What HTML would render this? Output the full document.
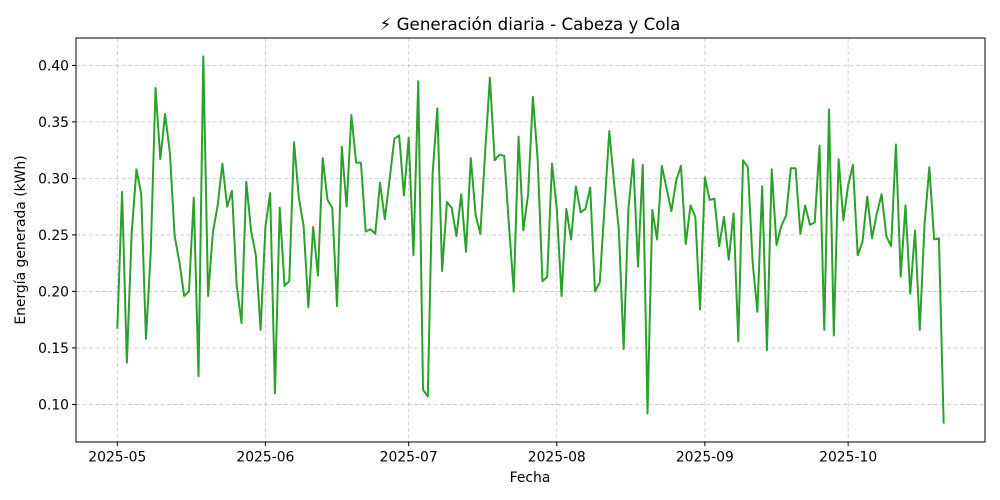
<!DOCTYPE html>
<html><head><meta charset="utf-8"><style>
html,body{margin:0;padding:0;background:#fff;}
svg{display:block;font-family:"DejaVu Sans","Liberation Sans",sans-serif;}
</style></head><body>
<svg id="chart" width="1000" height="500" viewBox="0 0 1000 500">
<rect x="0" y="0" width="1000" height="500" fill="#fff"/>
<text x="530" y="30" text-anchor="middle" font-size="16.7" fill="#000">⚡ Generación diaria - Cabeza y Cola</text>
<g id="grid"></g>
<g id="series"></g>
<rect x="76" y="38" width="909" height="404" fill="none" stroke="#000" stroke-width="1"/>
<g id="xticks"></g>
<g id="yticks"></g>
<text x="530" y="482" text-anchor="middle" font-size="13.9">Fecha</text>
<text transform="translate(25,240) rotate(-90)" text-anchor="middle" font-size="13.9">Energía generada (kWh)</text>
</svg>
<script>
const startDate = "2025-05-01";
const values = [
.167,.288,.137,.251,.308,.286,.158,.235,.380,.317,.357,.323,.249,.226,.196,.200,.283,.125,.408,.196,.252,.276,.313,.275,.289,.205,.172,.297,.254,.232,.166,.257,
.287,.110,.274,.205,.209,.332,.283,.258,.186,.257,.214,.318,.281,.274,.187,.328,.275,.356,.314,.314,.253,.255,.251,.296,.264,.299,.335,.338,.285,.336,.232,.386,
.113,.107,.304,.362,.218,.279,.274,.249,.286,.235,.318,.268,.251,.323,.389,.316,.321,.320,.258,.200,.337,.254,.286,.372,.317,.209,.213,.313,.273,.196,
.273,.246,.293,.270,.273,.292,.200,.208,.275,.342,.296,.254,.149,.273,.317,.222,.312,.092,.272,.246,.311,.291,.271,.298,.311,.242,.276,.266,.184,.301,.281,
.282,.240,.266,.228,.269,.156,.316,.310,.226,.182,.293,.148,.308,.241,.258,.267,.309,.309,.251,.276,.259,.261,.329,.166,.361,.161,.317,.263,.294,.312,.232,
.244,.284,.247,.269,.286,.249,.240,.330,.213,.276,.198,.254,.166,.260,.310,.246,.247,.083
];
const xTickLabels = ["2025-05","2025-06","2025-07","2025-08","2025-09","2025-10"];
const yTickValues = [0.10,0.15,0.20,0.25,0.30,0.35,0.40];

const NS="http://www.w3.org/2000/svg";
const L=76,R=985,T=38,B=442;
const DAY=86400000;
const t0=Date.parse(startDate+"T00:00:00Z");
const n=values.length;
const span=n-1, xm=span*0.05;
function xs(d){return L+(d+xm)/(span+2*xm)*(R-L);}
const vmin=Math.min(...values), vmax=Math.max(...values), ym=(vmax-vmin)*0.05;
function ys(v){return B-(v-(vmin-ym))/((vmax+ym)-(vmin-ym))*(B-T);}
function mk(tag,attrs,parent){const e=document.createElementNS(NS,tag);for(const k in attrs)e.setAttribute(k,attrs[k]);parent.appendChild(e);return e;}
const grid=document.getElementById('grid'), xt=document.getElementById('xticks'), yt=document.getElementById('yticks'), ser=document.getElementById('series');

xTickLabels.forEach(lbl=>{
  const d=(Date.parse(lbl+"-01T00:00:00Z")-t0)/DAY;
  const x=xs(d);
  const g=mk('line',{x1:x,x2:x,y1:T,y2:B,stroke:'#b0b0b0','stroke-width':0.8,'stroke-dasharray':'4,2.5',opacity:0.7},grid);
  
  
  const tk=mk('line',{x1:x,x2:x,y1:B,y2:B+4,stroke:'#000','stroke-width':1},xt);
  
  
  const tx=mk('text',{x:x,y:B+19.5,'text-anchor':'middle','font-size':13.9},xt);
  tx.textContent=lbl;
  
  
});
yTickValues.forEach(v=>{
  const y=ys(v);
  const g=mk('line',{x1:L,x2:R,y1:y,y2:y,stroke:'#b0b0b0','stroke-width':0.8,'stroke-dasharray':'4,2.5',opacity:0.7},grid);
  
  
  const tk=mk('line',{x1:L-4,x2:L,y1:y,y2:y,stroke:'#000','stroke-width':1},yt);
  
  
  const tx=mk('text',{x:L-7,y:y+5,'text-anchor':'end','font-size':13.9},yt);
  tx.textContent=v.toFixed(2);
  
  
});
const pts=values.map((v,i)=>xs(i).toFixed(2)+','+ys(v).toFixed(2)).join(' ');
const line=mk('polyline',{points:pts,fill:'none',stroke:'#2ca02c','stroke-width':2,'stroke-linejoin':'round'},ser);


</script>
</body></html>
